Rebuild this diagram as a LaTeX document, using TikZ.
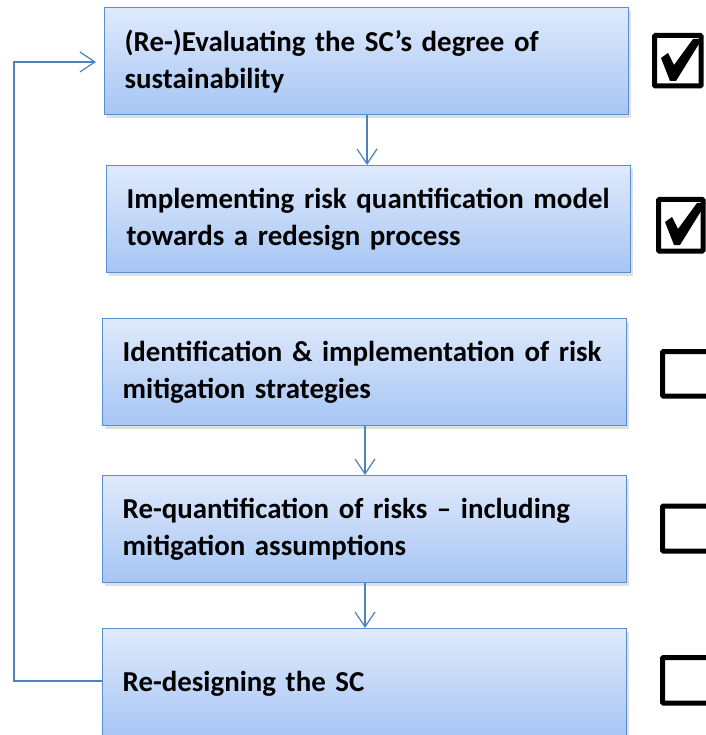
\documentclass[tikz,border=0pt]{standalone}
\usepackage{fontspec}
\setmainfont{Carlito}
\usetikzlibrary{shadows,arrows.meta}
\definecolor{boxedge}{HTML}{5B8ED0}
\definecolor{boxtop}{HTML}{DFEAFC}
\definecolor{boxbot}{HTML}{A6C5F4}
\definecolor{lineblue}{HTML}{4F81BD}
\tikzset{
  stepbox/.style={draw=boxedge, line width=1.3pt, rectangle, anchor=north west,
    top color=boxtop, bottom color=boxbot,
    drop shadow={opacity=0.25, shadow xshift=2pt, shadow yshift=-3pt},
    minimum width=524pt, minimum height=107pt, text width=484pt,
    inner xsep=20pt, align=left,
    font=\bfseries\fontsize{28.9}{37}\selectfont},
  flow/.style={draw=lineblue, line width=1.2pt, -{Straight Barb[length=15pt,width=20pt,line width=1.2pt]}},
  tickbox/.style={line width=5pt, draw=black, rounded corners=1pt},
}
\begin{document}
\begin{tikzpicture}[x=1pt,y=-1pt]
\useasboundingbox (0,0) rectangle (705,735);
\node[stepbox] (b1) at (104,7) {(Re-)Evaluating the SC’s degree of\\ sustainability};
\node[stepbox] (b2) at (106,165) {Implementing risk quantification model\\ towards a redesign process};
\node[stepbox] (b3) at (102,318) {Identification \& implementation of risk\\ mitigation strategies};
\node[stepbox] (b4) at (102,475) {Re-quantification of risks – including\\ mitigation assumptions};
\node[stepbox, minimum height=110pt] (b5) at (102,628) {Re-designing the SC};
\draw[flow] (b1.south -| 367,0) -- (b2.north -| 367,0);
\draw[flow] (b3.south -| 365,0) -- (b4.north -| 365,0);
\draw[flow] (b4.south -| 365,0) -- (b5.north -| 365,0);
\coordinate (lp1) at (14,681);
\coordinate (lp2) at (14,62);
\coordinate (lend) at (96,62);
\draw[flow] (b5.west |- lp1) -- (lp1) -- (lp2) -- (lend);
% check boxes
\draw[tickbox] (654.5,35.5) rectangle (701,86);
\fill (661,58) -- (668,53) -- (674,65) -- (693,39) -- (702,39) -- (676,81) -- (670,81) -- cycle;
\draw[tickbox] (658.5,199.5) rectangle (703,251);
\fill (665,222) -- (672,217) -- (678,229) -- (697,203) -- (706,203) -- (680,245) -- (674,245) -- cycle;
\draw[tickbox] (710,351.5) -| (662.5,396) -- (710,396);
\draw[tickbox] (710,506) -| (662.5,551) -- (710,551);
\draw[tickbox] (710,657.5) -| (662.5,703) -- (710,703);
\end{tikzpicture}
\end{document}
